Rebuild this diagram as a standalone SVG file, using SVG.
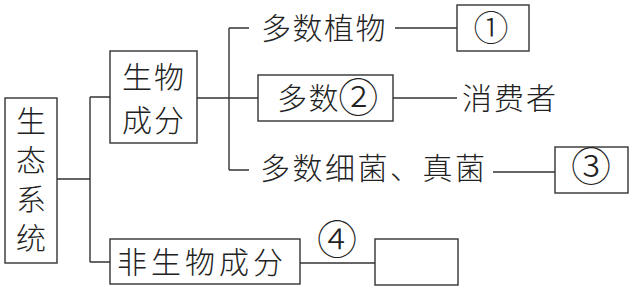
<svg xmlns="http://www.w3.org/2000/svg" width="630" height="289" viewBox="0 0 630 289">
<style>
.box{fill:none;stroke:#333;stroke-width:1.4}
.ln{fill:none;stroke:#333;stroke-width:1.4}
.t{font-family:"Noto Sans CJK SC","Noto Sans CJK JP",sans-serif;font-size:30px;fill:#222;font-weight:300}
.c{font-family:"Noto Sans CJK SC","Noto Sans CJK JP",sans-serif;font-size:40px;fill:#222;text-anchor:middle;font-weight:300}
</style>
<rect width="630" height="289" fill="#fff"/>
<g id="connectors">
<path class="ln" d="M57 179H90M90 97V262M90 97H110M90 262H110"/>
<path class="ln" d="M197 98H258M229 28V170M229 28H249M229 170H249"/>
<path class="ln" d="M395 28H457"/>
<path class="ln" d="M393 98H457"/>
<path class="ln" d="M493 172H555"/>
<path class="ln" d="M300 263H375"/>
</g>
<g id="n-ecosystem">
<rect class="box" x="5" y="98" width="52" height="165"/>
<text class="t" x="31" y="106" style="writing-mode:vertical-rl" letter-spacing="9">生态系统</text>
</g>
<g id="n-biotic">
<rect class="box" x="110" y="51" width="87" height="92"/>
<text class="t" x="122" y="88" letter-spacing="2">生物</text>
<text class="t" x="122" y="131" letter-spacing="2">成分</text>
</g>
<g id="n-plants">
<text class="t" x="261" y="39" letter-spacing="1.5">多数植物</text>
</g>
<g id="n-1">
<rect class="box" x="457" y="5" width="72" height="46"/>
<text class="c" x="491" y="41" style="font-size:35px">①</text>
</g>
<g id="n-animals">
<rect class="box" x="258" y="75" width="135" height="46"/>
<text class="t" x="277" y="109" letter-spacing="1.5">多数<tspan class="c" x="359" y="112">②</tspan></text>
</g>
<g id="n-consumer">
<text class="t" x="462" y="109" letter-spacing="2">消费者</text>
</g>
<g id="n-bacteria">
<text class="t" x="260" y="179" letter-spacing="2.5">多数细菌、真菌</text>
</g>
<g id="n-3">
<rect class="box" x="555" y="147" width="73" height="46"/>
<text class="c" x="591" y="181">③</text>
</g>
<g id="n-abiotic">
<rect class="box" x="110" y="239" width="190" height="45"/>
<text class="t" x="117" y="273" letter-spacing="4">非生物成分</text>
</g>
<g id="n-4">
<text class="c" x="337" y="254">④</text>
</g>
<g id="n-empty">
<rect class="box" x="375" y="239" width="83" height="46"/>
</g>
</svg>
